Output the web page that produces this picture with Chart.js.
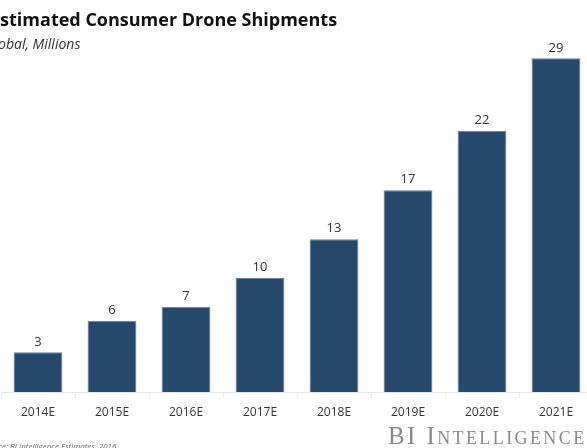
<!DOCTYPE html>
<html>
<head>
<meta charset="utf-8">
<script src="https://cdn.jsdelivr.net/npm/chart.js@4"></script>
<style>
  html, body { margin: 0; padding: 0; background: #fff; overflow: hidden; }
  #wrap { position: relative; width: 587px; height: 448px; overflow: hidden; }
  #chart { position: absolute; left: 0; top: 0; }
  .title { position: absolute; left: -10px; top: 7px; font: bold 18px "Open Sans", sans-serif; color: #111; white-space: nowrap; }
  .sub { position: absolute; left: -15px; top: 34px; font: italic 14px "Open Sans", sans-serif; color: #333; white-space: nowrap; }
  .src { position: absolute; left: -18px; top: 440px; font: italic 8px "Open Sans", sans-serif; color: #666; white-space: nowrap; }
  .logo { position: absolute; left: 388px; top: 422px; font: 25px "Liberation Serif", serif; font-variant: small-caps; letter-spacing: 2.4px; color: #8a8a8a; white-space: nowrap; }
</style>
</head>
<body>
<div id="wrap">
  <canvas id="chart" width="600" height="448"></canvas>
  <div class="title">Estimated Consumer Drone Shipments</div>
  <div class="sub">Global, Millions</div>
  <div class="src">Source: BI Intelligence Estimates, 2016</div>
  <div class="logo">BI Intelligence</div>
</div>
<script>
// dados (milhoes de unidades)
const anos = ['2014E', '2015E', '2016E', '2017E', '2018E', '2019E', '2020E', '2021E'];
const remessas = [3.4, 6.1, 7.3, 9.8, 13.1, 17.3, 22.4, 28.6];
const eixoMax = 30;

// rotulos em cima das barras
const rotulosPlugin = {
    id: 'rotulos',
    afterDatasetsDraw(chart) {
        const ctx = chart.ctx;
        const meta = chart.getDatasetMeta(0);
        ctx.save();
        ctx.font = '13px "Open Sans", sans-serif';
        ctx.fillStyle = '#333';
        ctx.textAlign = 'center';
        ctx.textBaseline = 'bottom';
        meta.data.forEach((bar, i) => {
            ctx.fillText(Math.round(remessas[i]), bar.x, bar.y - 4);
        });
        ctx.restore();
    }
};

new Chart(document.getElementById('chart'), {
    type: 'bar',
    data: {
        labels: anos,
        datasets: [{
            data: remessas,
            backgroundColor: '#25486b',
            borderColor: '#5f7f9c',
            borderWidth: 1,
            categoryPercentage: 0.66,
            barPercentage: 1
        }]
    },
    options: {
        responsive: false,
        animation: false,
        layout: { padding: { left: 1, right: 7, top: 42, bottom: 26 } },
        plugins: { legend: { display: false }, tooltip: { enabled: false } },
        scales: {
            x: {
                afterFit: (s) => { s.height = 30; },
                grid: { offset: true, drawOnChartArea: false, tickLength: 6, color: '#eeeeee' },
                border: { color: '#e4e4e4' },
                ticks: { color: '#333', font: { family: 'Open Sans', size: 12 }, padding: 7 }
            },
            y: { display: false, min: 0, max: eixoMax }
        }
    },
    plugins: [rotulosPlugin]
});
</script>
</body>
</html>
